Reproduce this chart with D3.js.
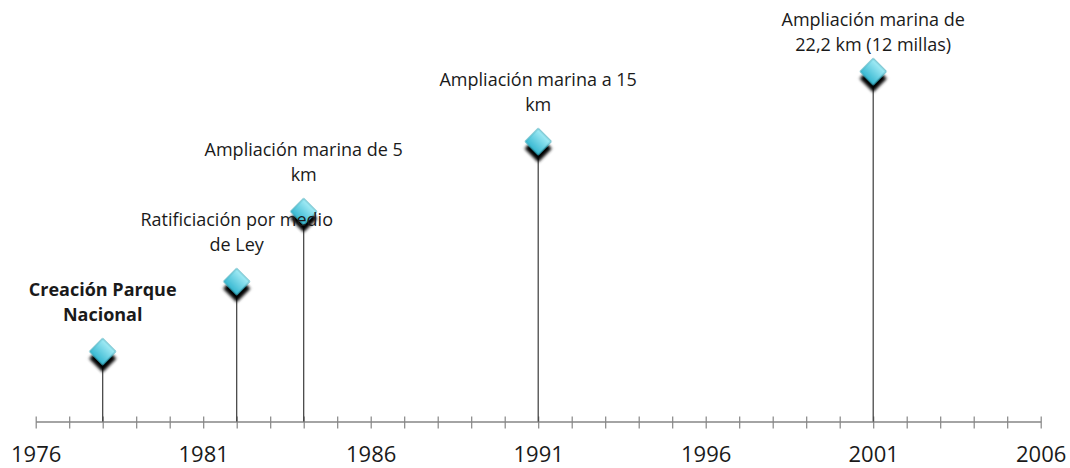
<!DOCTYPE html>
<html>
<head>
<meta charset="utf-8">
<script src="https://cdn.jsdelivr.net/npm/d3@7"></script>
<style>
  body { margin: 0; background: #fff; }
  text { font-family: "Open Sans", "Noto Sans", sans-serif; fill: #1a1a1a; }
</style>
</head>
<body>
<script>
// Chart data
const eventYears = [1978, 1982, 1984, 1991, 2001];
const eventLevels = [1, 2, 3, 4, 5];
const eventLabels = [
  ["Creación Parque", "Nacional"],
  ["Ratificiación por medio", "de Ley"],
  ["Ampliación marina de 5", "km"],
  ["Ampliación marina a 15", "km"],
  ["Ampliación marina de", "22,2 km (12 millas)"]
];
const eventBold = [true, false, false, false, false];
const tickLabels = [1976, 1981, 1986, 1991, 1996, 2001, 2006];

const width = 1070, height = 468;
const axisY = 421.5;

const events = eventYears.map((y, i) => ({
  year: y, level: eventLevels[i], lines: eventLabels[i], bold: eventBold[i]
}));

// scales
const x = d3.scaleLinear().domain([1976, 2006]).range([35.7, 1040.7]);
const y = d3.scaleLinear().domain([0, 5]).range([axisY, 71.5]);

const svg = d3.select("body").append("svg")
  .attr("width", width)
  .attr("height", height);

const defs = svg.append("defs");

const grad = defs.append("linearGradient")
  .attr("id", "markerFill")
  .attr("x1", "0").attr("y1", "0")
  .attr("x2", "0").attr("y2", "1");
grad.append("stop").attr("offset", "0%").attr("stop-color", "#a5ecf6");
grad.append("stop").attr("offset", "100%").attr("stop-color", "#38b9d2");

const shadow = defs.append("filter")
  .attr("id", "shadow")
  .attr("x", "-50%").attr("y", "-50%")
  .attr("width", "200%").attr("height", "200%");
shadow.append("feDropShadow")
  .attr("dx", 5).attr("dy", 5)
  .attr("stdDeviation", 1.5)
  .attr("flood-color", "#000")
  .attr("flood-opacity", 1);

// axis with year ticks
const allYears = d3.range(1976, 2007);
const axis = d3.axisBottom(x)
  .tickValues(allYears)
  .tickSize(0)
  .tickFormat(d => tickLabels.includes(d) ? d : "");

const gAxis = svg.append("g")
  .attr("transform", `translate(0,${axisY})`)
  .call(axis);

gAxis.select(".domain").attr("stroke", "#868686").attr("stroke-width", 1.5);
gAxis.selectAll(".tick line")
  .attr("y1", -5).attr("y2", 7)
  .attr("stroke", "#868686")
  .attr("stroke-width", 1.2);
gAxis.selectAll(".tick text")
  .attr("y", 40)
  .attr("dy", 0)
  .style("font-family", "'Open Sans', sans-serif")
  .style("font-size", "22px")
  .attr("fill", "#1a1a1a");

// drop lines
svg.selectAll(".drop")
  .data(events)
  .enter()
  .append("line")
  .attr("class", "drop")
  .attr("x1", d => x(d.year))
  .attr("x2", d => x(d.year))
  .attr("y1", d => y(d.level))
  .attr("y2", axisY)
  .attr("stroke", "#3a3a3a")
  .attr("stroke-width", 1.2);

// diamond markers
const diamond = d3.symbol().type(d3.symbolSquare).size(340);
svg.selectAll(".marker")
  .data(events)
  .enter()
  .append("path")
  .attr("class", "marker")
  .attr("d", diamond)
  .attr("transform", d => `translate(${x(d.year)},${y(d.level)}) rotate(45)`)
  .attr("fill", "url(#markerFill)")
  .attr("stroke", "#36a5b5")
  .attr("stroke-width", 0.8)
  .attr("filter", "url(#shadow)");

// labels above markers
const labels = svg.selectAll(".label")
  .data(events)
  .enter()
  .append("text")
  .attr("class", "label")
  .attr("text-anchor", "middle")
  .style("font-size", "18px")
  .style("font-weight", d => d.bold ? "bold" : "normal");

labels.each(function(d) {
  const top = Math.max(y(d.level) - 56, 26);
  d3.select(this).selectAll("tspan")
    .data(d.lines)
    .enter()
    .append("tspan")
    .attr("x", x(d.year))
    .attr("y", (l, i) => top + i * 25)
    .text(l => l);
});
</script>
</body>
</html>
